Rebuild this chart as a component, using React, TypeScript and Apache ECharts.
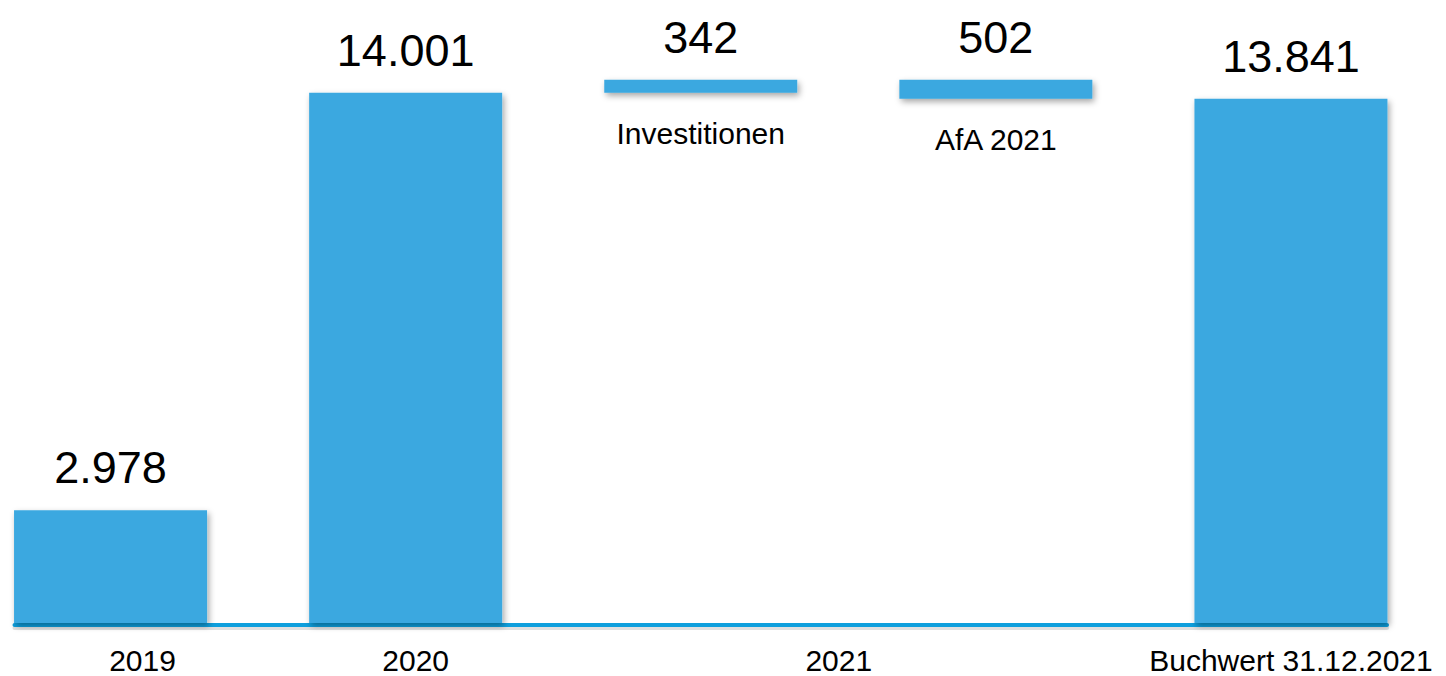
import React, { useEffect, useRef } from "react";
import * as echarts from "echarts";

// Waterfall data
const categories = ["2019", "2020", "Investitionen", "AfA 2021", "Buchwert 31.12.2021"];
const values = [2978, 14001, 342, -502, 13841];
const kinds = ["total", "total", "delta", "delta", "total"];
const axisLabels = ["2019", "2020", "2021", "", "Buchwert 31.12.2021"];
const axisLabelShift = [64, 20, 276, 0, 0];

const FONT = '"Liberation Sans", Arial, sans-serif';
const BAR = "#3AA8E0";

function fmt(v: number): string {
  return String(Math.abs(v)).replace(/\B(?=(\d{3})+(?!\d))/g, ".");
}

export default function App() {
  const ref = useRef<HTMLDivElement>(null);
  useEffect(() => {
    if (!ref.current) return;
    const chart = echarts.init(ref.current, undefined, { renderer: "svg" });

    let running = 0;
    const base: number[] = [];
    const visible: number[] = [];
    values.forEach((v, i) => {
      if (kinds[i] === "total") {
        base.push(0);
        visible.push(v);
        running = v;
      } else if (v >= 0) {
        base.push(running);
        visible.push(v);
        running += v;
      } else {
        running += v;
        base.push(running);
        visible.push(-v);
      }
    });

    const rich: Record<string, any> = {};
    axisLabelShift.forEach((s, i) => {
      rich["r" + i] = {
        fontSize: 30,
        fontFamily: FONT,
        color: "#000",
        padding: [0, 0, 0, s],
      };
    });

    const lineAxis = (color: string, offset: number) => ({
      type: "value",
      gridIndex: 1,
      min: 0,
      max: 1,
      offset,
      position: "bottom",
      axisTick: { show: false },
      axisLabel: { show: false },
      splitLine: { show: false },
      axisLine: { show: true, onZero: false, lineStyle: { color, width: 4 } },
    });

    chart.setOption({
      animation: false,
      grid: [
        { left: 0, right: 8.5, top: 17, bottom: 53, containLabel: false },
        { left: 51.5, right: 60, top: 17, bottom: 51, containLabel: false },
      ],
      xAxis: [
        {
          type: "category",
          gridIndex: 0,
          data: categories,
          axisTick: { show: false },
          axisLine: { show: false },
          axisLabel: {
            interval: 0,
            margin: 22,
            formatter: (_v: string, i: number) =>
              axisLabels[i] ? `{r${i}|${axisLabels[i]}}` : "",
            rich,
          },
        },
        lineAxis("rgba(0,0,0,0.12)", 3),
        lineAxis("#0E9FDD", 0),
      ],
      yAxis: [
        {
          type: "value",
          gridIndex: 0,
          min: 0,
          max: 16000,
          show: false,
          splitLine: { show: false },
        },
        {
          type: "value",
          gridIndex: 1,
          min: 0,
          max: 1,
          show: false,
          splitLine: { show: false },
        },
      ],
      series: [
        {
          type: "bar",
          stack: "w",
          silent: true,
          barWidth: 193,
          xAxisIndex: 0,
          yAxisIndex: 0,
          itemStyle: { color: "rgba(0,0,0,0)" },
          data: base.map((b, i) => ({
            value: b,
            label: {
              show: kinds[i] === "delta",
              position: "insideTop",
              distance: 26,
              formatter: categories[i],
              fontSize: 30,
              fontFamily: FONT,
              color: "#000",
            },
          })),
        },
        {
          type: "bar",
          stack: "w",
          silent: true,
          barWidth: 193,
          xAxisIndex: 0,
          yAxisIndex: 0,
          itemStyle: {
            color: BAR,
            shadowColor: "rgba(0,0,0,0.35)",
            shadowBlur: 6,
            shadowOffsetX: 2,
            shadowOffsetY: 3,
          },
          label: {
            show: true,
            position: "top",
            distance: 20,
            fontSize: 45,
            fontFamily: FONT,
            color: "#000",
            formatter: (p: any) => fmt(values[p.dataIndex]),
          },
          data: visible,
        },
      ],
    });
    return () => chart.dispose();
  }, []);
  return (
    <div
      ref={ref}
      style={{ position: "absolute", left: -37.5, top: 0, width: 1483.5, height: 676, background: "#fff" }}
    />
  );
}
